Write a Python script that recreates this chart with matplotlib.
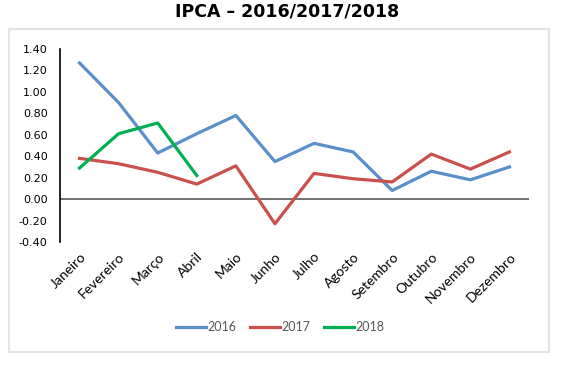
import matplotlib.pyplot as plt
import matplotlib.patches as patches

meses = ["Janeiro", "Fevereiro", "Março", "Abril", "Maio", "Junho", "Julho",
         "Agosto", "Setembro", "Outubro", "Novembro", "Dezembro"]
ipca_2016 = [1.27, 0.90, 0.43, 0.61, 0.78, 0.35, 0.52, 0.44, 0.08, 0.26, 0.18, 0.30]
ipca_2017 = [0.38, 0.33, 0.25, 0.14, 0.31, -0.23, 0.24, 0.19, 0.16, 0.42, 0.28, 0.44]
ipca_2018 = [0.29, 0.61, 0.71, 0.22]
yticks = [-0.4, -0.2, 0.0, 0.2, 0.4, 0.6, 0.8, 1.0, 1.2, 1.4]

fig = plt.figure(figsize=(5.8, 3.69), dpi=100)
# moldura cinza clara em volta do grafico
fig.patches.append(patches.Rectangle((9 / 580, 1 - 352 / 369), 540 / 580, 323 / 369,
                                     transform=fig.transFigure, fill=False,
                                     edgecolor="#e3e3e3", linewidth=1.5))
ax = fig.add_axes([60 / 580, 1 - 242 / 369, 469 / 580, 193 / 369])

x = list(range(len(meses)))
ax.axhline(0, color="#595959", linewidth=1.2, zorder=1)
ax.plot(x, ipca_2016, color="#5b8fcc", linewidth=2.3, label="2016", zorder=3)
ax.plot(x, ipca_2017, color="#c9504d", linewidth=2.3, label="2017", zorder=3)
ax.plot(x[:len(ipca_2018)], ipca_2018, color="#00b050", linewidth=2.3, label="2018", zorder=4)

ax.set_xlim(-0.5, 11.5)
ax.set_ylim(-0.4, 1.4)
ax.set_yticks(yticks)
ax.set_yticklabels(["%.2f" % v for v in yticks], fontsize=8, family="DejaVu Sans")
ax.set_xticks(x)
ax.set_xticklabels(meses, rotation=45, ha="right", rotation_mode="anchor",
                   fontsize=10, family="Lato")
ax.tick_params(axis="both", length=0)
ax.tick_params(axis="y", pad=9)
ax.tick_params(axis="x", pad=6)
for s in ["top", "right", "bottom"]:
    ax.spines[s].set_visible(False)
ax.spines["left"].set_linewidth(1.2)

fig.suptitle("IPCA – 2016/2017/2018", x=287 / 580, y=1 - 3 / 369, va="top",
             fontsize=12.5, fontweight="bold", family="DejaVu Sans")

leg = fig.legend(loc="center", bbox_to_anchor=(280 / 580, 1 - 327 / 369), ncol=3,
                 frameon=False, handlelength=2.4, handletextpad=0.15, columnspacing=1.05,
                 prop={"family": "Lato", "size": 9})
for t in leg.get_texts():
    t.set_color("#595959")

fig.savefig("out.png", dpi=100)
